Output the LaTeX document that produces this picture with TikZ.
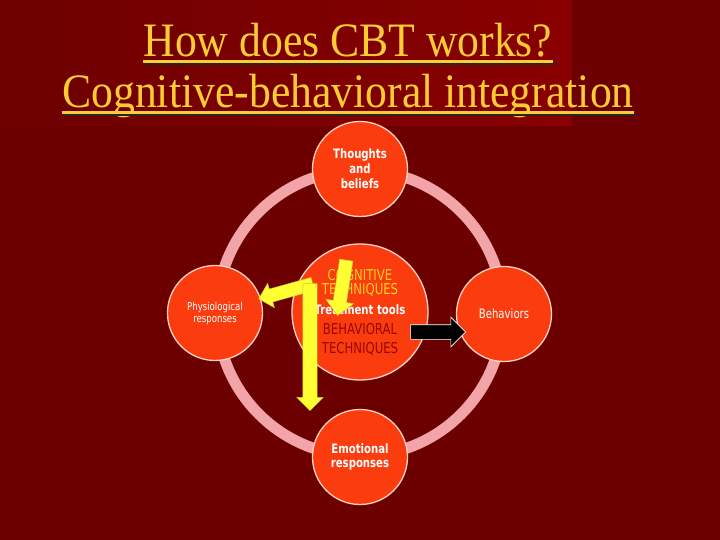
\documentclass[tikz,border=0pt]{standalone}
\usepackage{fontspec}
\setmainfont{Liberation Serif}
\newfontfamily\titlefont{Liberation Serif}[FakeStretch=0.91]
\newfontfamily\bubfont{DejaVu Sans}[FakeStretch=0.78]
\usetikzlibrary{positioning,shapes.arrows,calc}
\definecolor{cBack}{HTML}{6C0000}
\definecolor{cBand}{HTML}{890000}
\definecolor{cGold}{HTML}{FFCC33}
\definecolor{cBub}{HTML}{FA3C0E}
\definecolor{cRim}{HTML}{FFD2C4}
\definecolor{cRing}{HTML}{F3A4A8}
\definecolor{cYel}{HTML}{FFFF33}
\definecolor{cCog}{HTML}{FFD024}
\definecolor{cBeh}{HTML}{9A0606}
\tikzset{
  bub/.style={circle, draw=cRim, line width=1.3pt, fill=cBub, inner sep=0pt,
              minimum size=95pt, align=center, text=white, font=\bubfont},
  ring/.style={draw=cRing, line width=11pt},
  title/.style={font=\titlefont\fontsize{48}{50}\selectfont, text=cGold,
                inner sep=0pt, anchor=base},
  % underline, with its dark drop shadow
  uline/.style={draw=cGold, line width=3pt,
                preaction={draw=black!85, line width=3pt,
                           transform canvas={xshift=2pt, yshift=-2.5pt}}},
  blkarrow/.style={single arrow, inner xsep=0pt, single arrow tip angle=90,
                   single arrow head indent=0pt},
  yarrow/.style={blkarrow, fill=cYel, draw=cYel!80!black, line width=0.4pt,
                 inner ysep=6.5pt},
}

\begin{document}
\begin{tikzpicture}[x=1pt, y=-1pt]
\useasboundingbox (0,0) rectangle (720,540);
\fill[cBack] (0,0) rectangle (720,540);
\shade[left color=cBack!95!cBand, right color=cBand] (0,0) rectangle (572,126);

%% ── title ─────────────────────────────────────────────────────────────────
\node[title] (t1) at (348,57) {How does CBT works?};
\node[title] (t2) at (348,108) {Cognitive-behavioral integration};
\draw[uline] ([yshift=-4.5pt]t1.base west) -- ([yshift=-4.5pt]t1.base east);
\draw[uline] ([yshift=-4.5pt]t2.base west) -- ([yshift=-4.5pt]t2.base east);

%% ── the cycle ─────────────────────────────────────────────────────────────
\coordinate (mid) at (360,313);
\draw[ring] (mid) circle (143);

\node[bub, font=\bubfont\bfseries\fontsize{13}{15}\selectfont] (thk) at (360,169)
  {Thoughts\\and\\beliefs};
\node[bub, font=\bubfont\fontsize{11}{12}\selectfont] (phy) at (215,313)
  {Physiological\\responses};
\node[bub, font=\bubfont\fontsize{13}{15}\selectfont] (beh) at (504,314)
  {Behaviors};
\node[bub, font=\bubfont\bfseries\fontsize{13}{14}\selectfont] (emo) at (360,457)
  {Emotional\\responses};

%% ── treatment tools ───────────────────────────────────────────────────────
\node[bub, minimum size=136pt, font=\bubfont\fontsize{15}{14}\selectfont] (tools) at (360,312)
  {\color{cCog}COGNITIVE\\
   \color{cCog}TECHNIQUES\\[6pt]
   \color{white}{\bfseries\fontsize{13}{14}\selectfont Treatment tools}\\[6pt]
   \color{cBeh}BEHAVIORAL\\[5pt]
   \color{cBeh}TECHNIQUES};

%% ── arrows ────────────────────────────────────────────────────────────────
\node[blkarrow, fill=black, draw=white, line width=0.6pt, inner ysep=7pt,
      single arrow head extend=7.5pt, minimum height=55pt] (act) at (434.5,332) {};
\node[yarrow, single arrow head extend=6pt, minimum height=56pt, rotate=195.5]
  (tobody) at (289,290.5) {};
\node[yarrow, single arrow head extend=7.5pt, minimum height=56pt, rotate=-99]
  (tothink) at (342.5,284.5) {};
\node[yarrow, inner ysep=7pt, single arrow head extend=6pt, minimum height=127pt,
      rotate=-90] (tofeel) at (310,343.5) {};

\end{tikzpicture}
\end{document}
